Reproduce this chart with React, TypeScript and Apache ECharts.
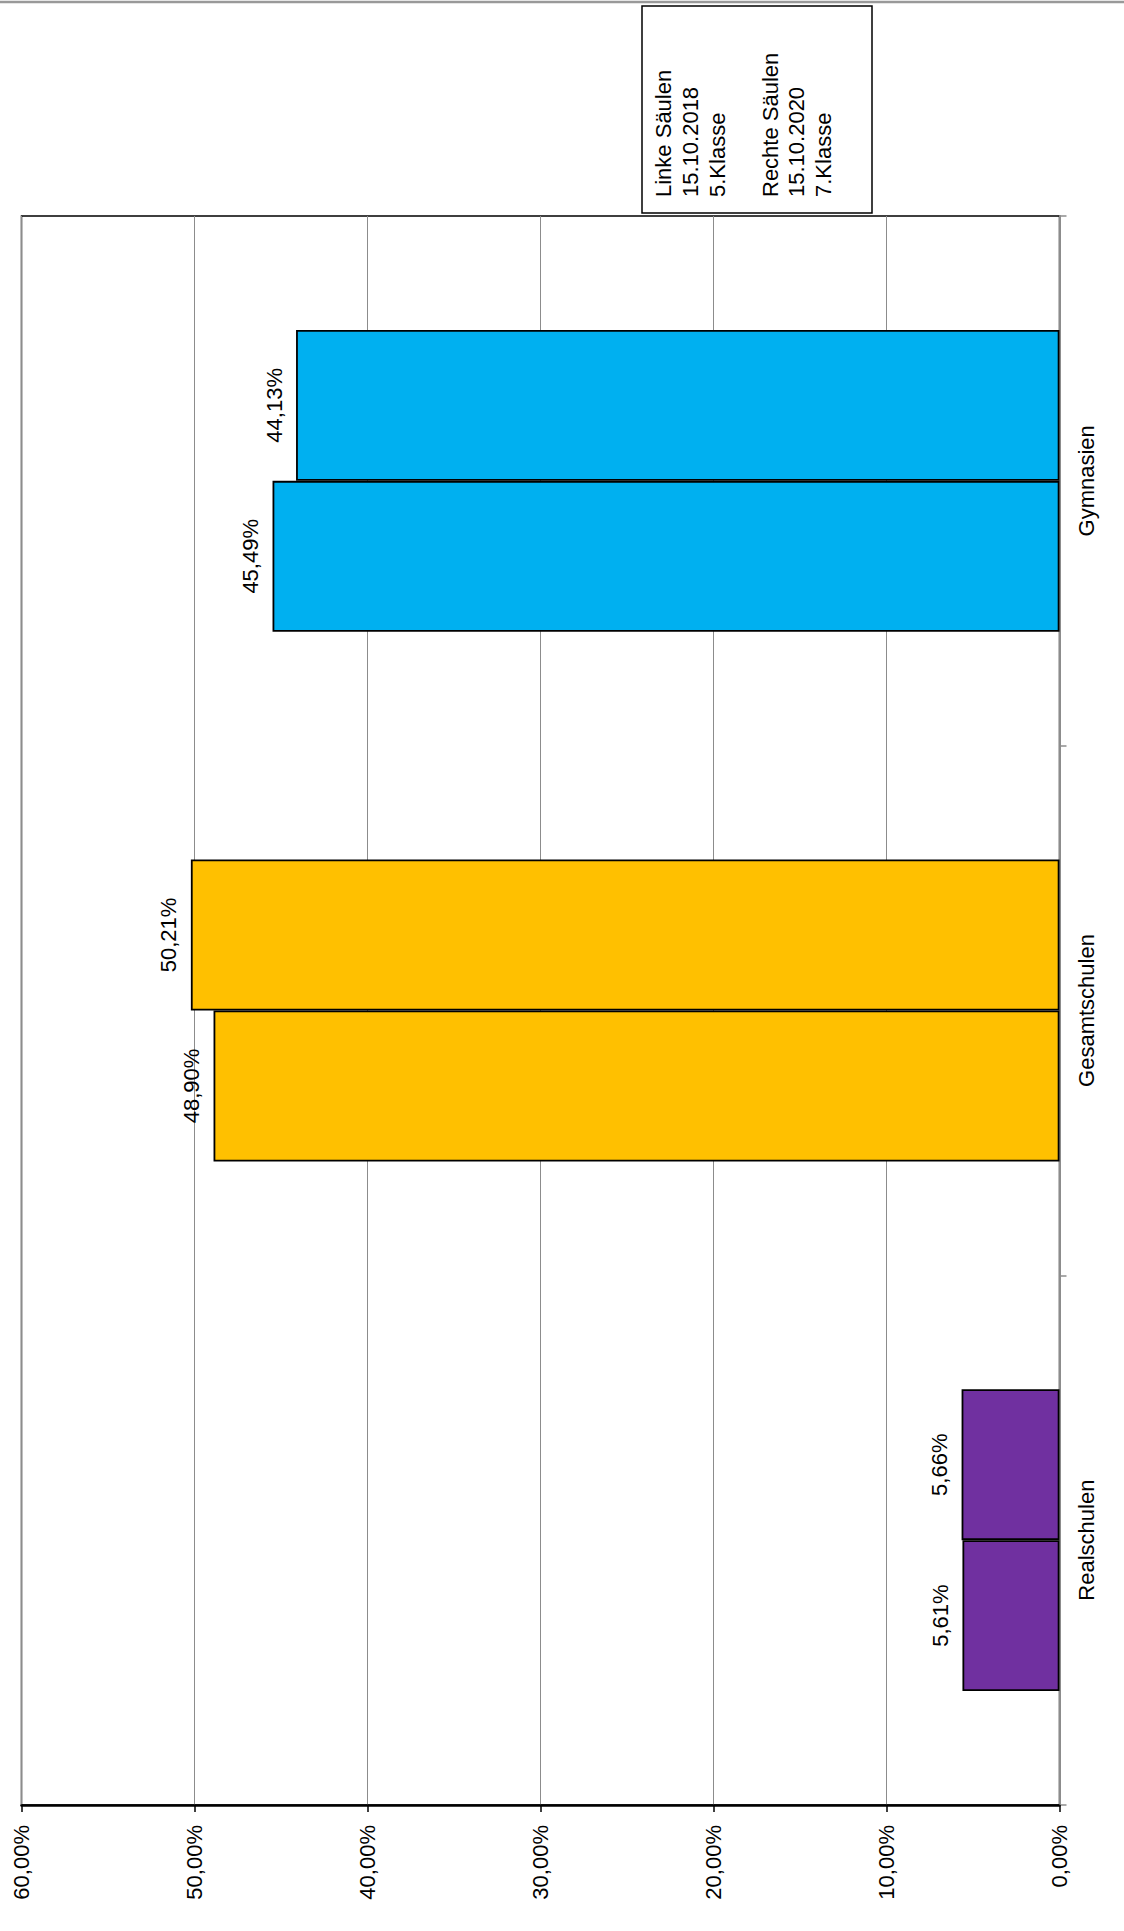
import React, { useEffect, useRef } from "react";
import * as echarts from "echarts";

const categories = ["Realschulen", "Gesamtschulen", "Gymnasien"];
const categoryColors = ["#7030A0", "#FFC000", "#00B0F0"];
const values2018 = [5.61, 48.9, 45.49];
const values2020 = [5.66, 50.21, 44.13];
const legendLines = [
  "Linke Säulen",
  "15.10.2018",
  "5.Klasse",
  "",
  "Rechte Säulen",
  "15.10.2020",
  "7.Klasse",
];

const FONT = '"Liberation Sans", Arial, sans-serif';
const fmt = (v: number) => v.toFixed(2).replace(".", ",") + "%";

export default function App() {
  const ref = useRef<HTMLDivElement>(null);
  useEffect(() => {
    if (!ref.current) return;
    const chart = echarts.init(ref.current, null, { renderer: "svg" });
    const mkSeries = (name: string, data: number[]) => ({
      name,
      type: "bar",
      data,
      barWidth: "28.5%",
      barGap: "0%",
      itemStyle: {
        color: (p: any) => categoryColors[p.dataIndex],
        borderColor: "#000",
        borderWidth: 1.8,
      },
      label: {
        show: true,
        position: "left",
        distance: 22,
        rotate: 90,
        align: "center",
        verticalAlign: "middle",
        fontSize: 22,
        fontFamily: FONT,
        color: "#000",
        formatter: (p: any) => fmt(p.value),
      },
    });
    chart.setOption({
      animation: false,
      backgroundColor: "#fff",
      grid: {
        left: 21.5,
        right: 64.5,
        top: 216,
        bottom: 126,
        show: true,
        borderColor: "#000",
        borderWidth: 1.5,
        backgroundColor: "transparent",
      },
      xAxis: {
        type: "value",
        inverse: true,
        min: 0,
        max: 60,
        interval: 10,
        axisLine: { show: true, lineStyle: { color: "#000", width: 2.5 } },
        axisTick: { show: true, length: 7, lineStyle: { color: "#000", width: 1.5 } },
        splitLine: { show: true, lineStyle: { color: "#8c8c8c", width: 1 } },
        axisLabel: {
          rotate: 90,
          margin: 20,
          fontSize: 22,
          fontFamily: FONT,
          color: "#000",
          formatter: (v: number) => fmt(v),
        },
      },
      yAxis: {
        type: "category",
        position: "right",
        data: categories,
        axisLine: { show: true, lineStyle: { color: "#8c8c8c", width: 2 } },
        axisTick: { show: true, length: 7, lineStyle: { color: "#8c8c8c", width: 1.5 } },
        splitLine: { show: false },
        axisLabel: {
          rotate: 90,
          margin: 16,
          fontSize: 22,
          fontFamily: FONT,
          color: "#000",
        },
      },
      // ECharts stacks the first series on top; 2020 (right columns) is the upper bar
      series: [mkSeries("2020", values2020), mkSeries("2018", values2018)],
      graphic: [
        {
          type: "line",
          shape: { x1: 0, y1: 2, x2: 1124, y2: 2 },
          style: { stroke: "#999", lineWidth: 2.5 },
        },
        {
          type: "rect",
          shape: { x: 642, y: 6, width: 230, height: 207 },
          style: { fill: "#fff", stroke: "#000", lineWidth: 1.5 },
          z: 100,
        },
        {
          type: "text",
          x: 650.5,
          y: 197,
          rotation: Math.PI / 2,
          z: 101,
          style: {
            text: legendLines.join("\n"),
            font: `22px ${FONT}`,
            lineHeight: 26.6,
            fill: "#000",
            align: "left",
            verticalAlign: "top",
          },
        },
      ],
    });
    return () => chart.dispose();
  }, []);
  return (
    <div
      ref={ref}
      style={{ position: "absolute", left: 0, top: 0, width: 1124, height: 1931 }}
    />
  );
}
